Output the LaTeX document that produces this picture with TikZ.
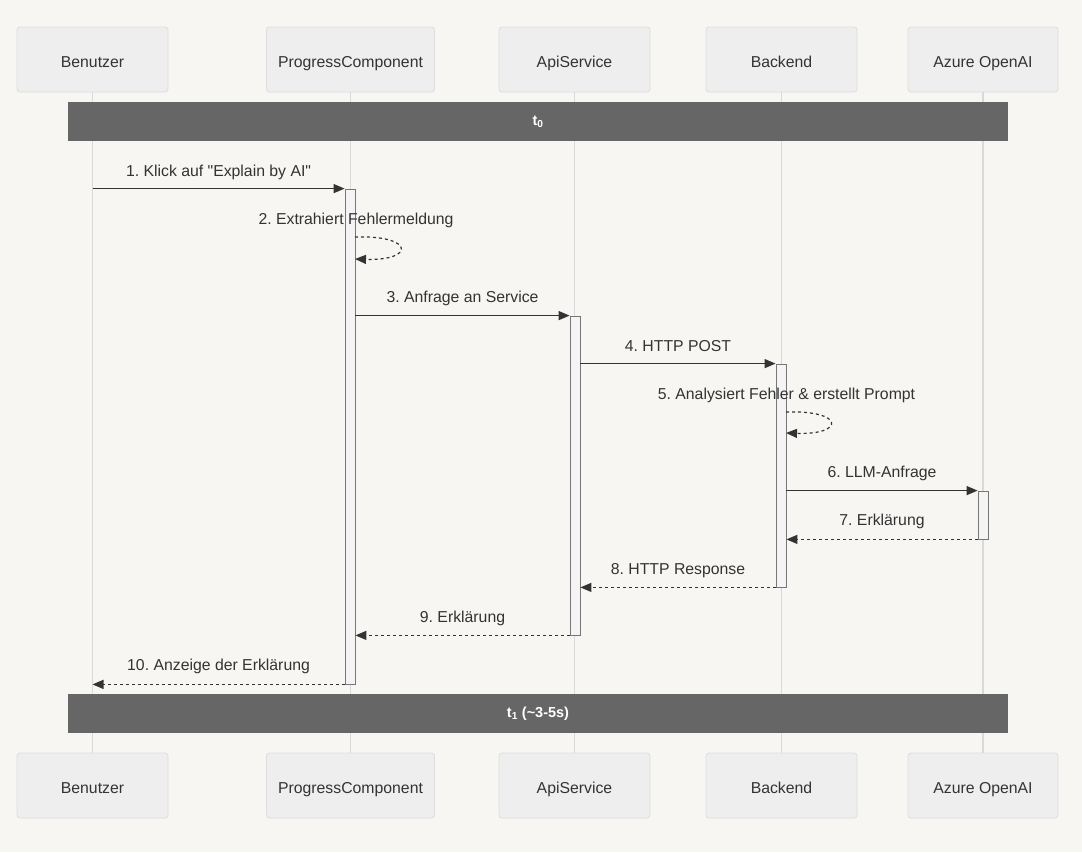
\documentclass[tikz,border=0pt]{standalone}
\usepackage{fontspec}
\newfontfamily\lbfont{Liberation Sans}
\usetikzlibrary{arrows.meta,calc}
\definecolor{bg}{HTML}{F7F6F3}
\definecolor{boxfill}{HTML}{EEEEEE}
\definecolor{boxline}{HTML}{DDDDDD}
\definecolor{life}{HTML}{D9D9D9}
\definecolor{barfill}{HTML}{666666}
\definecolor{ink}{HTML}{333333}
\definecolor{actfill}{HTML}{F4F4F4}
\definecolor{actline}{HTML}{777777}
\tikzset{
  part/.style={draw=boxline, fill=boxfill, rounded corners=3pt, minimum height=65pt, inner sep=0pt, font=\lbfont\fontsize{15.8}{18}\selectfont, text=ink, line width=0.8pt, text height=15pt, text depth=0pt},
  lifeline/.style={draw=life, line width=1.4pt},
  timebar/.style={fill=barfill, draw=none, minimum height=39pt, minimum width=940.5pt, inner sep=0pt, text=white, font=\lbfont\fontsize{14.5}{17}\selectfont\bfseries},
  act/.style={draw=actline, fill=actfill, line width=0.8pt, minimum width=10pt, inner sep=0pt},
  msg/.style={draw=ink, line width=1.2pt, -{Triangle[length=11pt,width=9pt]}},
  ret/.style={msg, dash pattern=on 3pt off 3pt},
  lbl/.style={font=\lbfont\fontsize{15.8}{18}\selectfont, text=ink, inner sep=0pt, text height=1.5ex, text depth=0.3ex}
}
\begin{document}
\frenchspacing
\begin{tikzpicture}[x=1pt,y=-1pt]
\fill[bg] (0,0) rectangle (1082,852);
\useasboundingbox (0,0) rectangle (1082,852);
% participants top
\node[part, minimum width=151pt] (ben) at (92.5,59.5) {Benutzer};
\node[part, minimum width=168pt] (pc) at (350.5,59.5) {ProgressComponent};
\node[part, minimum width=151pt] (api) at (574.5,59.5) {ApiService};
\node[part, minimum width=151pt] (be) at (781.5,59.5) {Backend};
\node[part, minimum width=150pt] (az) at (983,59.5) {Azure OpenAI};
% participants bottom
\node[part, minimum width=151pt] (ben2) at (92.5,785.5) {Benutzer};
\node[part, minimum width=168pt] (pc2) at (350.5,785.5) {ProgressComponent};
\node[part, minimum width=151pt] (api2) at (574.5,785.5) {ApiService};
\node[part, minimum width=151pt] (be2) at (781.5,785.5) {Backend};
\node[part, minimum width=150pt] (az2) at (983,785.5) {Azure OpenAI};
% lifelines
\draw[lifeline] (ben.south) -- (ben2.north);
\draw[lifeline] (pc.south) -- (pc2.north);
\draw[lifeline] (api.south) -- (api2.north);
\draw[lifeline] (be.south) -- (be2.north);
\draw[lifeline] (az.south) -- (az2.north);
% time bars
\node[timebar] (t0) at (538,121.5) {t\textsubscript{0}};
\node[timebar] (t1) at (538,713.5) {t\textsubscript{1} (\textasciitilde 3-5s)};
% activation bars
\node[act, minimum height=495pt] (apc) at (350,436.5) {};
\node[act, minimum height=319pt] (aapi) at (575,475.5) {};
\node[act, minimum height=223pt] (abe) at (781,475.5) {};
\node[act, minimum height=48pt] (aaz) at (983,515) {};
% messages
\draw[msg] (apc.north west -| ben.south) -- node[lbl, pos=0.5, yshift=15pt] (l1) {1. Klick auf "Explain by AI"} (apc.north west);
% self loop 2
\coordinate (s2a) at (355,237);
\coordinate (s2b) at (355,259);
\node[lbl] (l2) at (356,222) {2. Extrahiert Fehlermeldung};
\draw[ret] (s2a) .. controls (415,235) and (415,261) .. (s2b);
\draw[msg] (aapi.north west -| apc.east) -- node[lbl, pos=0.5, yshift=16pt] (l3) {3. Anfrage an Service} (aapi.north west);
\draw[msg] (abe.north west -| aapi.east) -- node[lbl, pos=0.5, yshift=15pt] (l4) {4. HTTP POST} (abe.north west);
% self loop 5
\coordinate (s5a) at (786,412);
\coordinate (s5b) at (786,433);
\node[lbl] (l5) at (786.5,397) {5. Analysiert Fehler \& erstellt Prompt};
\draw[ret] (s5a) .. controls (845,410) and (845,435) .. (s5b);
\draw[msg] (aaz.north west -| abe.east) -- node[lbl, pos=0.5, yshift=16pt] (l6) {6. LLM-Anfrage} (aaz.north west);
\draw[ret] (aaz.south west) -- node[lbl, pos=0.5, yshift=16pt] (l7) {7. Erklärung} (aaz.south west -| abe.east);
\draw[ret] (abe.south west) -- node[lbl, pos=0.5, yshift=15pt] (l8) {8. HTTP Response} (abe.south west -| aapi.east);
\draw[ret] (aapi.south west) -- node[lbl, pos=0.5, yshift=15pt] (l9) {9. Erklärung} (aapi.south west -| apc.east);
\draw[ret] (apc.south west) -- node[lbl, pos=0.5, yshift=16pt] (l10) {10. Anzeige der Erklärung} (apc.south west -| ben.south);
\end{tikzpicture}
\end{document}
